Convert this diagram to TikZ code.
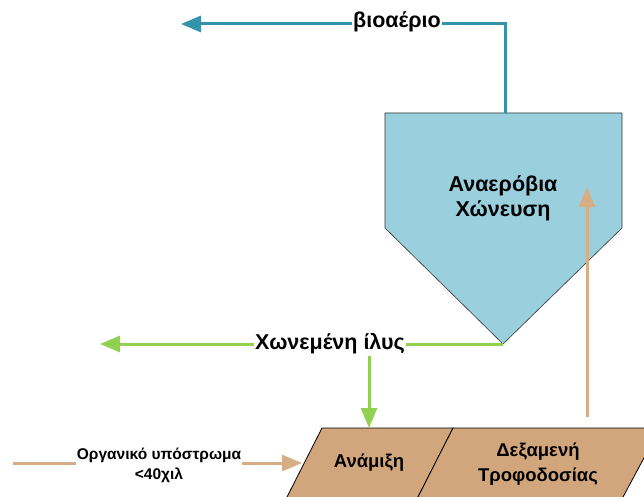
\documentclass[tikz,border=0pt]{standalone}
\usepackage{fontspec}
\setmainfont{Liberation Sans}
\usetikzlibrary{arrows.meta}
\definecolor{gasteal}{RGB}{53,146,168}
\definecolor{sludge}{RGB}{146,208,80}
\definecolor{tankfill}{RGB}{210,166,124}
\definecolor{feedline}{RGB}{214,173,132}
\definecolor{digfill}{RGB}{154,208,221}
\begin{document}
\begin{tikzpicture}[x=1pt,y=-1pt,
  flow/.style={line width=3pt},
  headtip/.style={-{Triangle[length=20pt,width=16pt]}},
  biglbl/.style={font=\bfseries\fontsize{21.5}{24}\selectfont, fill=white, inner sep=1pt},
  diglbl/.style={font=\bfseries\fontsize{21.5}{25}\selectfont, align=center, inner sep=0pt},
  boxlbl/.style={font=\bfseries\fontsize{18.5}{25}\selectfont, align=center, inner sep=0pt},
  smalllbl/.style={font=\bfseries\fontsize{15.5}{20}\selectfont, align=center, fill=white, inner sep=1pt},
  vessel/.style={fill=digfill, draw=black!80, line width=0.6pt},
  tank/.style={fill=tankfill, draw=black, line width=0.8pt}]
\useasboundingbox (0,0) rectangle (644,497);

% anaerobic digester vessel
\draw[vessel] (385,113) -- (622,113) -- (622,228) -- (503,344) -- (385,228) -- cycle;
\node[diglbl] (dig) at (503,198) {Αναερόβια\\Χώνευση};
\coordinate (digtop) at (505,113);
\coordinate (digbot) at (503,344);

% mixing and feed tanks
\begin{scope}
\clip (0,0) rectangle (644,497);
\draw[tank] (322,428) -- (453,428) -- (418,497) -- (413,507) -- (282,507) -- (287,497) -- cycle;
\draw[tank] (453,428) -- (660,428) -- (623,497) -- (618,507) -- (413,507) -- (418,497) -- cycle;
\end{scope}
\node[boxlbl] (mix) at (369,463) {Ανάμιξη};
\node[boxlbl] (feed) at (538,464) {Δεξαμενή\\Τροφοδοσίας};

% biogas output
\coordinate (gasout) at (181,24);
\draw[flow, gasteal, headtip] (digtop) |- (gasout);
\node[biglbl] (gas) at (397,22) {βιοαέριο};

% digestate output
\coordinate (sludgeout) at (100,344);
\draw[flow, sludge, headtip] (digbot) -- (sludgeout);
\node[biglbl] (ilys) at (330,344) {Χωνεμένη ίλυς};
\draw[flow, sludge, headtip] (369,356) -- (369,428);

% feed from tank to digester
\draw[flow, feedline, headtip] (587,417) -- (587,187);

% organic substrate input
\coordinate (subin) at (13,463);
\draw[flow, feedline, headtip] (subin) -- (302,463);
\node[smalllbl] (sub) at (159,465) {Οργανικό υπόστρωμα\\<40χιλ};
\end{tikzpicture}
\end{document}
